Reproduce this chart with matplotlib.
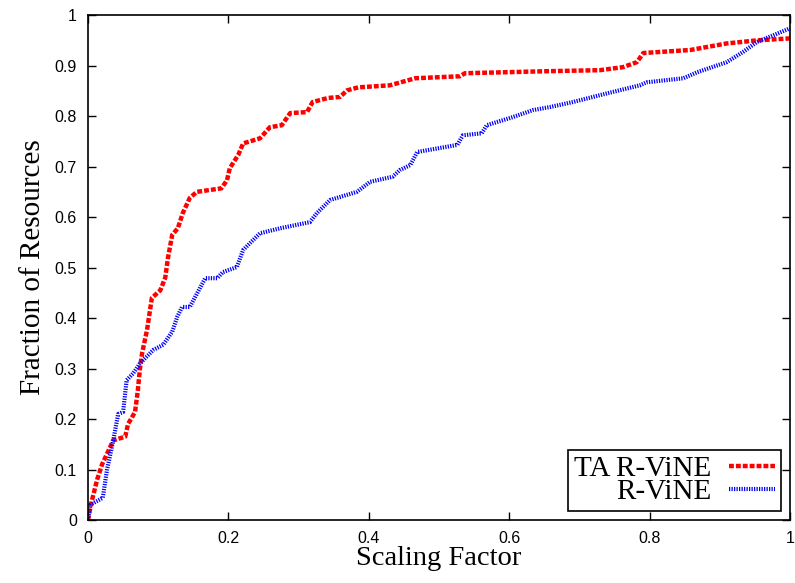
import matplotlib
matplotlib.use('Agg')
import matplotlib.pyplot as plt

# TA R-ViNE (red)
ta_x = [0.0, 0.004, 0.013, 0.02, 0.03, 0.036, 0.053, 0.057, 0.067, 0.071, 0.074, 0.077,
        0.084, 0.091, 0.103, 0.11, 0.114, 0.12, 0.128, 0.135, 0.145, 0.155, 0.19, 0.198,
        0.202, 0.214, 0.221, 0.245, 0.259, 0.276, 0.288, 0.312, 0.32, 0.342, 0.359, 0.369,
        0.385, 0.43, 0.466, 0.53, 0.537, 0.654, 0.729, 0.762, 0.782, 0.791, 0.858, 0.91,
        0.953, 1.0]
ta_y = [0.0, 0.03, 0.08, 0.11, 0.14, 0.158, 0.165, 0.19, 0.214, 0.257, 0.30, 0.33,
        0.376, 0.44, 0.455, 0.48, 0.52, 0.565, 0.578, 0.608, 0.638, 0.65, 0.657, 0.673,
        0.697, 0.723, 0.746, 0.756, 0.778, 0.782, 0.806, 0.808, 0.828, 0.836, 0.838, 0.851,
        0.857, 0.861, 0.875, 0.879, 0.885, 0.889, 0.891, 0.897, 0.907, 0.925, 0.931, 0.944,
        0.95, 0.954]

# R-ViNE (blue)
rv_x = [0.0, 0.003, 0.021, 0.027, 0.036, 0.043, 0.05, 0.055, 0.064, 0.074, 0.093, 0.107,
        0.12, 0.127, 0.134, 0.145, 0.167, 0.184, 0.192, 0.212, 0.221, 0.245, 0.274, 0.316,
        0.326, 0.345, 0.383, 0.402, 0.434, 0.444, 0.459, 0.469, 0.526, 0.534, 0.561, 0.568,
        0.605, 0.634, 0.658, 0.691, 0.739, 0.786, 0.796, 0.848, 0.868, 0.91, 0.933, 0.953,
        0.976, 1.0]
rv_y = [0.0, 0.03, 0.044, 0.099, 0.158, 0.21, 0.214, 0.277, 0.29, 0.31, 0.337, 0.347,
        0.373, 0.402, 0.422, 0.422, 0.479, 0.479, 0.491, 0.501, 0.535, 0.568, 0.578, 0.59,
        0.608, 0.634, 0.65, 0.67, 0.68, 0.693, 0.703, 0.729, 0.743, 0.762, 0.766, 0.782,
        0.798, 0.812, 0.818, 0.828, 0.845, 0.861, 0.867, 0.875, 0.887, 0.907, 0.927, 0.947,
        0.96, 0.974]

serif = ['Liberation Serif', 'DejaVu Serif']
sans = ['Liberation Sans', 'DejaVu Sans']

fig = plt.figure(figsize=(7.95, 5.83), dpi=100)
ax = fig.add_axes([0.1107, 0.108, 0.883, 0.866])

ax.plot(ta_x, ta_y, color='#ff0000', lw=3.2, dashes=(1.1, 0.45), label='TA R-ViNE',
        solid_capstyle='butt', dash_capstyle='butt')
ax.plot(rv_x, rv_y, color='#0000ff', lw=3.0, dashes=(0.3, 0.3), label='R-ViNE',
        dash_capstyle='butt')

ax.set_xlim(0, 1)
ax.set_ylim(0, 1)
ax.set_xticks([0, 0.2, 0.4, 0.6, 0.8, 1])
ax.set_xticklabels(['0', '0.2', '0.4', '0.6', '0.8', '1'])
ax.set_yticks([i / 10 for i in range(11)])
ax.set_yticklabels(['0'] + ['%.1f' % (i / 10) for i in range(1, 10)] + ['1'])
ax.tick_params(direction='in', top=True, right=True, length=6, width=1, pad=8)
for lab in ax.get_xticklabels() + ax.get_yticklabels():
    lab.set_family(sans)
    lab.set_fontsize(11.5)
for s in ax.spines.values():
    s.set_linewidth(1.2)

ax.set_xlabel('Scaling Factor', fontsize=20.5, family=serif, labelpad=0)
ax.set_ylabel('Fraction of Resources', fontsize=21, family=serif, labelpad=6)

leg = ax.legend(loc='lower right', markerfirst=False, handlelength=1.6,
                prop={'family': serif, 'size': 21}, fancybox=False, framealpha=1,
                edgecolor='black', borderpad=0.2, labelspacing=-0.1,
                handletextpad=0.6, borderaxespad=0.3)
leg.get_frame().set_linewidth(1.2)
for t in leg.get_texts():
    t.set_ha('right')

fig.savefig('out.png', dpi=100, facecolor='white')
